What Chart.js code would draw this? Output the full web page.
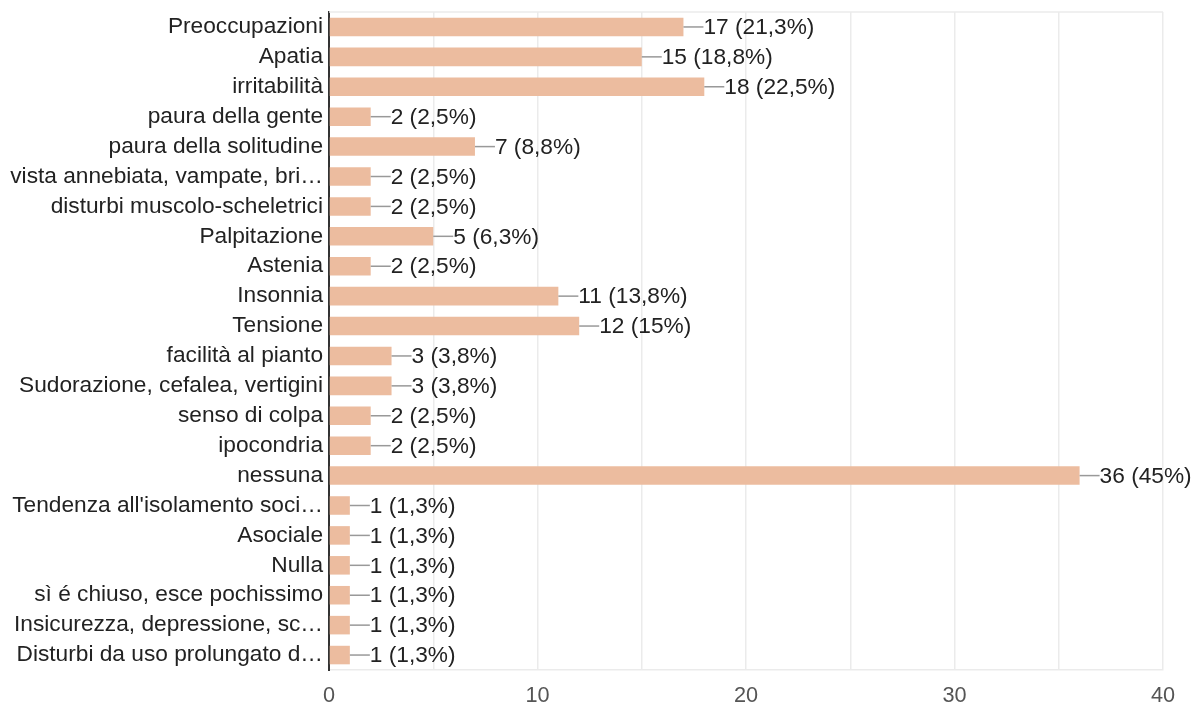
<!DOCTYPE html>
<html>
<head>
<meta charset="utf-8">
<script src="https://cdn.jsdelivr.net/npm/chart.js@4/dist/chart.umd.min.js"></script>
<style>
  html, body { margin: 0; padding: 0; background: #fff; }
  #wrap { width: 1196px; height: 707px; }
</style>
</head>
<body>
<div id="wrap"><canvas id="myChart"></canvas></div>
<script>
// risposte alla domanda sui sintomi (80 risposte)
const labels = [
  "Preoccupazioni",
  "Apatia",
  "irritabilità",
  "paura della gente",
  "paura della solitudine",
  "vista annebiata, vampate, bri…",
  "disturbi muscolo-scheletrici",
  "Palpitazione",
  "Astenia",
  "Insonnia",
  "Tensione",
  "facilità al pianto",
  "Sudorazione, cefalea, vertigini",
  "senso di colpa",
  "ipocondria",
  "nessuna",
  "Tendenza all'isolamento soci…",
  "Asociale",
  "Nulla",
  "sì é chiuso, esce pochissimo",
  "Insicurezza, depressione, sc…",
  "Disturbi da uso prolungato d…"
];
const counts = [17, 15, 18, 2, 7, 2, 2, 5, 2, 11, 12, 3, 3, 2, 2, 36, 1, 1, 1, 1, 1, 1];
const percents = ["21,3", "18,8", "22,5", "2,5", "8,8", "2,5", "2,5", "6,3", "2,5", "13,8", "15",
                  "3,8", "3,8", "2,5", "2,5", "45", "1,3", "1,3", "1,3", "1,3", "1,3", "1,3"];
const xTicks = [0, 10, 20, 30, 40];

const FONT = "'Liberation Sans', Arial, sans-serif";

// linea guida + etichetta "n (x%)" dopo ogni barra, e bordo superiore del grafico
const valueLabels = {
  id: "valueLabels",
  beforeDatasetsDraw(chart) {
    const { ctx, chartArea } = chart;
    ctx.save();
    ctx.strokeStyle = "#ebebeb";
    ctx.lineWidth = 1.5;
    ctx.beginPath();
    ctx.moveTo(chartArea.left, chartArea.top);
    ctx.lineTo(chartArea.right, chartArea.top);
    ctx.stroke();
    ctx.restore();
  },
  afterDatasetsDraw(chart) {
    const { ctx } = chart;
    const meta = chart.getDatasetMeta(0);
    ctx.save();
    ctx.font = "22.7px " + FONT;
    ctx.textBaseline = "middle";
    ctx.textAlign = "left";
    meta.data.forEach((bar, i) => {
      const x = bar.x, y = bar.y;
      ctx.strokeStyle = "#999";
      ctx.lineWidth = 1.5;
      ctx.beginPath();
      ctx.moveTo(x, y);
      ctx.lineTo(x + 20, y);
      ctx.stroke();
      ctx.fillStyle = "#222";
      ctx.fillText(counts[i] + " (" + percents[i] + "%)", x + 20, y + 1);
    });
    ctx.restore();
  }
};

new Chart(document.getElementById("myChart"), {
  type: "bar",
  data: {
    labels,
    datasets: [{
      data: counts,
      backgroundColor: "#ecbc9f",
      borderWidth: 0,
      categoryPercentage: 1,
      barPercentage: 0.62
    }]
  },
  options: {
    indexAxis: "y",
    responsive: true,
    maintainAspectRatio: false,
    animation: false,
    layout: { padding: { top: 12, right: 33, left: 0, bottom: 0 } },
    plugins: {
      legend: { display: false },
      tooltip: { enabled: false }
    },
    scales: {
      x: {
        min: 0,
        max: 40,
        afterFit(scale) {
          scale.height = 37;
          scale.paddingLeft = 0;
          scale.paddingRight = 0;
        },
        afterBuildTicks(scale) {
          scale.ticks = [0, 5, 10, 15, 20, 25, 30, 35, 40].map((v) => ({ value: v }));
        },
        ticks: {
          autoSkip: false,
          maxRotation: 0,
          padding: 13,
          color: "#555",
          font: { family: FONT, size: 21.7 },
          callback: (v) => (xTicks.includes(v) ? String(v) : "")
        },
        grid: { color: "#ebebeb", lineWidth: 1.5, drawTicks: false },
        border: { color: "#ebebeb", width: 1.5 }
      },
      y: {
        afterFit(scale) {
          scale.width = 329;
          scale.paddingTop = 0;
          scale.paddingBottom = 0;
        },
        ticks: {
          autoSkip: false,
          padding: 6,
          color: "#222",
          font: { family: FONT, size: 22.7 }
        },
        grid: { display: false, drawTicks: false },
        border: { color: "#333", width: 2 }
      }
    }
  },
  plugins: [valueLabels]
});
</script>
</body>
</html>
